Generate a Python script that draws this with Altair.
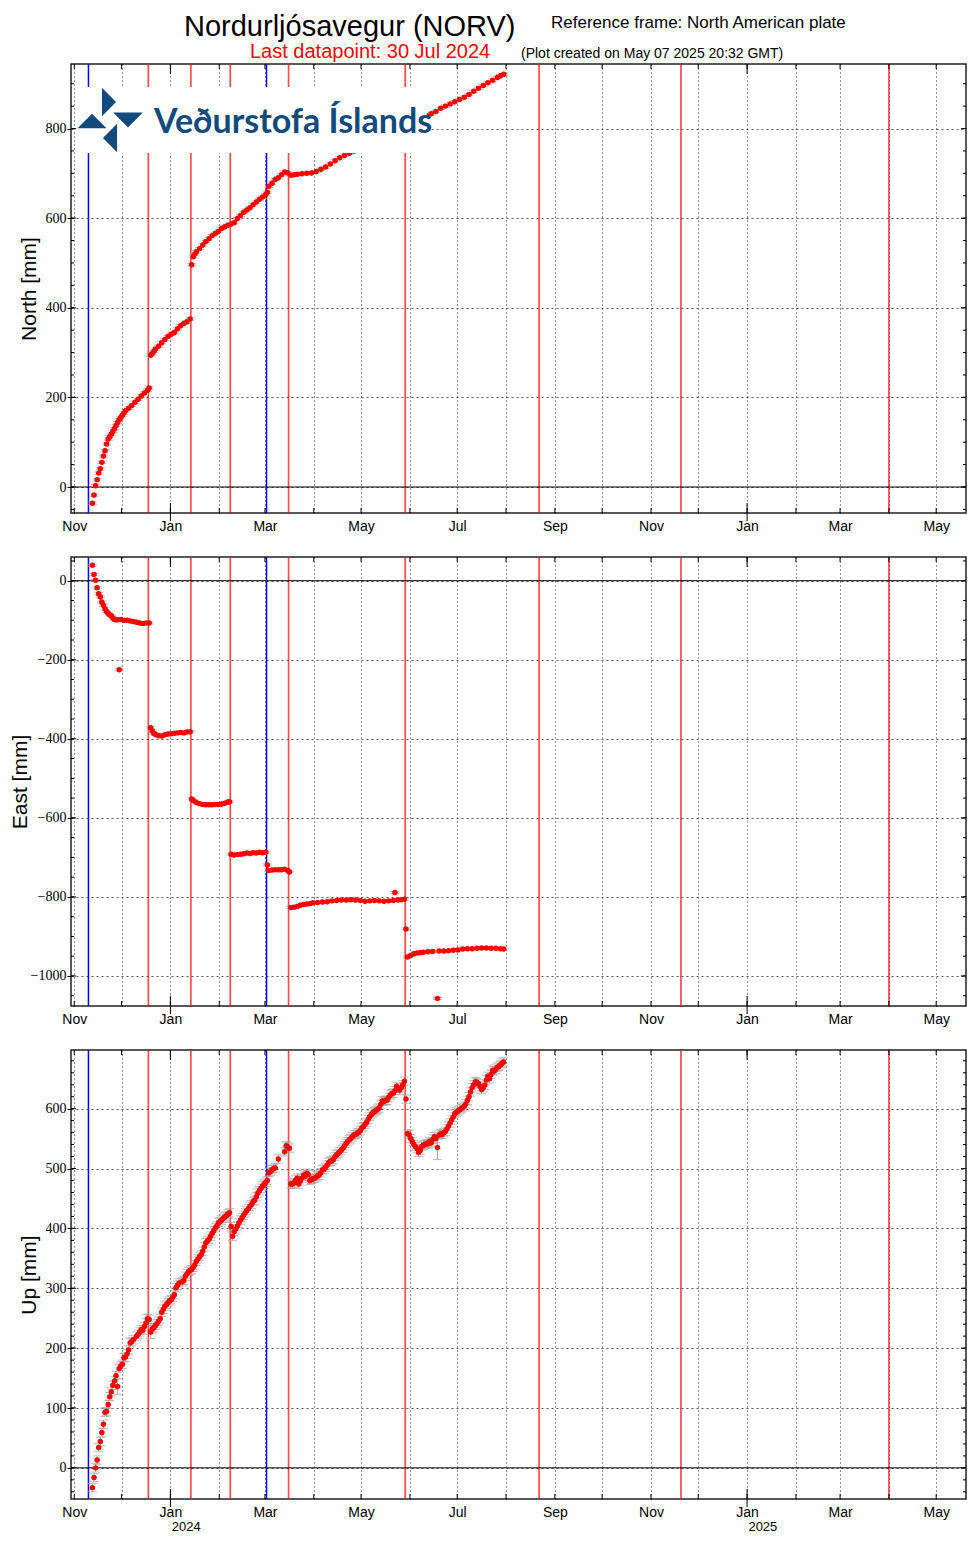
import altair as alt
import pandas as pd

# ---------------------------------------------------------------- data
# day offsets are counted from 2024-01-01 (UTC); values in mm
north_day = [-50, -49, -48, -47, -46, -45, -44, -43, -42, -41, -40, -39, -38, -37, -36, -35, -34, -33, -32, -31,
             -30, -29, -27, -25, -23, -21, -19, -17, -15, -14,
             -13, -12, -11, -10, -8, -6, -4, -2, 0, 2, 4, 6, 8, 10, 12,
             13, 14, 15, 16, 18, 20, 22, 24, 26, 28, 30, 32, 34, 36, 38, 40, 42, 44, 46, 48, 50, 52, 54, 56, 58, 60, 61,
             62, 64, 66, 68, 70, 72, 74, 76, 78, 80,
             83, 86, 89, 92, 95, 98, 101, 104, 107, 110, 113, 116, 119, 122, 125, 128, 131, 134, 137, 140, 143, 146,
             148, 150,
             153, 156, 159, 162, 165, 168, 171, 174, 177, 180, 183, 186, 189, 192, 195, 198, 201, 204, 207,
             209, 211]
north_mm = [-36, -18, 3, 16, 31, 41, 55, 69, 81, 96, 107, 112, 118, 124, 130, 137, 144, 150, 155, 160,
            165, 170, 176, 182, 189, 196, 203, 210, 216, 221,
            294, 298, 303, 308, 314, 322, 329, 336, 341, 345, 353, 360, 365, 369, 375,
            496, 514, 520, 525, 532, 540, 548, 554, 561, 566, 571, 577, 581, 584, 587, 590, 599, 606, 613, 618, 623, 630,
            636, 642, 647, 653, 658,
            671, 678, 686, 690, 697, 703, 701, 696, 697, 698,
            699, 700, 701, 704, 709, 714, 721, 728, 735, 740, 745, 750, 755, 760, 765, 770, 775, 780, 785, 790, 795, 800,
            804, 812,
            816, 820, 825, 829, 833, 838, 845, 850, 855, 860, 865, 870, 876, 883, 890, 896, 902, 908, 914,
            918, 921]

east_day = [-50, -49, -48, -47, -46, -45, -44, -43, -42, -41, -40, -39, -38, -37, -36, -35, -34, -33, -32,
            -30, -28, -26, -24, -22, -20, -18, -16, -14,
            -13, -12, -11, -10, -8, -6, -4, -2, 0, 2, 4, 6, 8, 10, 12,
            13, 14, 16, 18, 20, 22, 24, 26, 28, 30, 32, 34, 36, 37,
            38, 40, 42, 44, 46, 48, 50, 52, 54, 56, 58, 60,
            61, 62, 64, 66, 68, 70, 72, 74, 75,
            76, 78, 80, 82, 84, 86, 88, 90,
            93, 96, 99, 102, 105, 108, 111, 114, 117, 120, 123, 126, 129, 132, 135, 138, 141,
            142, 144, 146, 148,
            149,
            150, 152, 154, 156, 158, 160, 163, 166, 169, 170,
            173, 176, 179, 182, 185, 188, 191, 194, 197, 200, 203, 206, 209, 211]
east_mm = [39, 16, 1, -18, -33, -41, -54, -62, -71, -78, -82, -86, -89, -94, -98, -99, -99, -225, -98,
           -100, -100, -102, -103, -105, -107, -108, -107, -107,
           -372, -380, -386, -389, -392, -393, -390, -388, -387, -386, -385, -384, -385, -383, -382,
           -552, -556, -561, -564, -566, -567, -567, -567, -566, -566, -565, -563, -560, -559,
           -692, -694, -693, -692, -691, -689, -690, -688, -689, -687, -688, -687,
           -719, -733, -732, -731, -731, -731, -730, -733, -737,
           -827, -826, -824, -821, -819, -818, -817, -815,
           -814, -813, -812, -810, -809, -808, -808, -807, -808, -809, -811, -810, -809, -810, -811, -810, -809,
           -789, -808, -807, -806,
           -881,
           -952, -948, -944, -942, -941, -940, -939, -938, -1057, -937,
           -937, -936, -935, -934, -932, -931, -931, -930, -929, -929, -930, -930, -931, -932]

up_day = [-50, -49, -48, -47, -46, -45, -44, -43, -42, -41, -40, -39, -38, -37, -36, -35, -34, -33, -32, -31,
          -30, -29, -28, -27, -26, -25, -24, -22, -21, -20, -19, -18, -17, -16, -15, -14,
          -13, -12, -11, -10, -9, -8, -7, -6, -5, -4, -3, -2, -1, 0, 1, 2, 3, 4, 5, 7, 8, 9, 10, 11, 12,
          13, 14, 15, 16, 17, 18, 19, 20, 21, 22, 23, 24, 25, 26, 27, 28, 29, 30, 31, 32, 33, 34, 35, 36, 37,
          38, 39, 40, 41, 42, 43, 44, 45, 46, 47, 48, 49, 50, 51, 52, 53, 54, 55, 56, 57, 58, 59, 60, 61,
          62, 63, 64, 65, 66, 68, 72, 73, 74, 75,
          76, 77, 78, 79, 80, 81, 82, 83, 84, 85, 86, 87, 88, 89, 90, 91, 92, 93, 94, 95, 96, 97, 98, 99,
          100, 101, 102, 103, 104, 105, 106, 107, 108, 109, 110, 111, 112, 113, 114, 115, 116, 117, 118, 119,
          120, 121, 122, 123, 124, 125, 126, 127, 128, 129, 130, 131, 132, 133, 134, 135, 136, 137, 138, 139,
          140, 141, 142, 143, 144, 145, 146, 147, 148,
          149,
          150, 151, 152, 153, 154, 155, 156, 157, 158, 159, 160, 161, 162, 163, 164, 165, 166, 167, 168, 169,
          170, 171, 172, 173, 174, 175, 176, 177, 178, 179, 180, 181, 182, 183, 184, 185, 186, 187, 188, 189,
          190, 191, 192, 193, 194, 195, 196, 197, 198, 199, 200, 201, 202, 203, 204, 205, 206, 207, 208, 209,
          210, 211]
up_mm = [-33, -16, 0, 13, 34, 44, 59, 73, 93, 94, 106, 119, 127, 138, 145, 154, 136, 166, 170, 173,
         184, 185, 190, 197, 209, 211, 214, 220, 223, 227, 231, 230, 236, 242, 249, 248,
         227, 232, 234, 238, 241, 245, 249, 260, 265, 270, 273, 276, 279, 281, 285, 289, 301, 305, 309,
         311, 313, 320, 324, 328, 330,
         331, 335, 339, 345, 349, 353, 356, 362, 369, 376, 379, 382, 387, 392, 396, 401, 404, 410, 411, 414, 417,
         419, 421, 424, 426,
         403, 387, 395, 399, 404, 409, 414, 418, 422, 426, 430, 433, 437, 440, 445, 447, 453, 459, 463, 467, 471,
         474, 477, 480,
         493, 495, 498, 500, 501, 516, 528, 538, 536, 534,
         474, 474, 476, 481, 484, 474, 479, 484, 489, 487, 492, 490, 480, 482, 483, 484, 486, 488, 489, 493, 498,
         499, 502, 506,
         510, 512, 513, 515, 520, 523, 525, 528, 531, 534, 538, 542, 545, 548, 550, 553, 556, 557, 559, 560,
         563, 568, 570, 574, 577, 582, 587, 590, 593, 595, 597, 599, 601, 607, 613, 612, 614, 614, 619, 623,
         625, 626, 630, 637, 634, 631, 635, 640, 646,
         616,
         558, 557, 550, 545, 540, 537, 533, 527, 530, 537, 539, 540, 542, 541, 545, 543, 549, 553, 550, 535,
         556, 558, 557, 560, 562, 566, 571, 576, 581, 586, 592, 594, 596, 598, 600, 602, 604, 608, 614, 620,
         628, 635, 640, 645, 644, 642, 637, 632, 635, 639, 648, 654, 650, 657, 664, 663, 666, 669, 671, 673,
         676, 678]

# typical 1-sigma uncertainty [mm] and the few larger ones
north_sigma = 2.5
east_sigma = 2.5
up_sigma = 7.0
up_sigma_big = {-34: 13, -13: 11, 169: 20}

intrusion_dates = ["2023-11-10", "2024-03-02"]
eruption_dates = ["2023-12-18", "2024-01-14", "2024-02-08", "2024-03-16", "2024-05-29",
                  "2024-08-22", "2024-11-20", "2025-04-01"]

month_starts = ["2023-11-01", "2023-12-01", "2024-01-01", "2024-02-01", "2024-03-01", "2024-04-01",
                "2024-05-01", "2024-06-01", "2024-07-01", "2024-08-01", "2024-09-01", "2024-10-01",
                "2024-11-01", "2024-12-01", "2025-01-01", "2025-02-01", "2025-03-01", "2025-04-01",
                "2025-05-01"]
year_starts = ["2024-01-01", "2025-01-01"]
year_labels = ["2024", "2025"]
year_label_dates = ["2024-01-11", "2025-01-11"]

x_domain_dates = ["2023-10-29T22:00:00", "2025-05-19T22:00:00"]

north_major = [0, 200, 400, 600, 800]
east_major = [-1000, -800, -600, -400, -200, 0]
up_major = [0, 100, 200, 300, 400, 500, 600]
north_minor = list(range(-50, 901, 50))
east_minor = list(range(-1050, 51, 50))
up_minor = list(range(-40, 681, 20))

north_domain = [-58, 944]
east_domain = [-1076, 60]
up_domain = [-52, 698]

# ---------------------------------------------------------------- helpers
BASE_MS = pd.Timestamp("2024-01-01", tz="UTC").value // 10**6
DAY_MS = 86400000


def day_ms(days, shift=0.0):
    return [BASE_MS + int(round((d + shift) * DAY_MS)) for d in days]


def date_ms(dates):
    return [pd.Timestamp(s, tz="UTC").value // 10**6 for s in dates]


W, H = 895, 449
XSCALE = alt.Scale(type="utc", domain=date_ms(x_domain_dates), nice=False)
XPLAIN = alt.X("t:T", scale=XSCALE)

XAXIS = alt.Axis(
    values=date_ms(month_starts),
    labelExpr="utcmonth(datum.value) % 2 == 0 ? utcFormat(datum.value, '%b') : ''",
    ticks=False, domain=False, grid=True, gridDash=[1, 3], gridColor="#000", gridOpacity=0.85,
    gridWidth=1, labelFont="Liberation Sans", labelFontSize=14, labelColor="#000",
    labelPadding=6, labelAngle=0, labelAlign="center", labelFlush=False, labelOverlap=False,
    title=None)

SANS = "Liberation Sans"
SERIF = "Liberation Serif"


def one_row():
    return pd.DataFrame({"a": [0]})


def panel(days, vals, sigma, big, ydom, major, minor, title, title_pad, extra=()):
    df = pd.DataFrame({"t": day_ms(days, 0.5), "v": vals})
    s = [big.get(d, sigma) for d in days]
    df["lo"] = [v - e for v, e in zip(vals, s)]
    df["hi"] = [v + e for v, e in zip(vals, s)]
    ysc = alt.Scale(domain=ydom, nice=False, zero=False)
    yaxis = alt.Axis(values=major, format="d", tickSize=4, ticks=True, tickColor="#000", tickWidth=1,
                     labelPadding=1, labelFont=SERIF, labelFontSize=14, labelColor="#000",
                     grid=True, gridDash=[2, 3], gridColor="#444", gridOpacity=0.9, domain=False,
                     title=title, titleFont=SANS, titleFontSize=21, titleFontWeight="normal",
                     titleColor="#000", titlePadding=title_pad)

    ev_r = pd.DataFrame({"t": date_ms(eruption_dates)})
    ev_b = pd.DataFrame({"t": date_ms(intrusion_dates)})
    months = pd.DataFrame({"t": date_ms(month_starts)})
    jans = pd.DataFrame({"t": date_ms(year_starts)})
    maj = pd.DataFrame({"v": major})
    mnr = pd.DataFrame({"v": minor})

    red = alt.Chart(ev_r).mark_rule(color="#ff0000", strokeWidth=1.7, opacity=0.7).encode(
        x=alt.X("t:T", scale=XSCALE, axis=XAXIS))
    blue = alt.Chart(ev_b).mark_rule(color="#0000ff", strokeWidth=1.5).encode(x=XPLAIN)
    zero = alt.Chart(pd.DataFrame({"v": [0]})).mark_rule(color="#000", strokeWidth=1).encode(
        y=alt.Y("v:Q", scale=ysc, axis=yaxis))
    err = alt.Chart(df).mark_rule(color="#a0a0a0", strokeWidth=1).encode(
        x=XPLAIN, y=alt.Y("lo:Q", scale=ysc), y2="hi:Q")
    cap_lo = alt.Chart(df).mark_tick(color="#a0a0a0", orient="horizontal", size=9, thickness=1).encode(
        x=XPLAIN, y=alt.Y("lo:Q", scale=ysc))
    cap_hi = alt.Chart(df).mark_tick(color="#a0a0a0", orient="horizontal", size=9, thickness=1).encode(
        x=XPLAIN, y=alt.Y("hi:Q", scale=ysc))
    pts = alt.Chart(df).mark_circle(color="#ff0000", size=30, opacity=1).encode(
        x=XPLAIN, y=alt.Y("v:Q", scale=ysc))

    yplain = alt.Y("v:Q", scale=ysc)
    ticks = [
        alt.Chart(maj).mark_rule(color="#000").encode(y=yplain, x=alt.value(0), x2=alt.value(5)),
        alt.Chart(mnr).mark_rule(color="#000").encode(y=yplain, x=alt.value(0), x2=alt.value(3)),
        alt.Chart(maj).mark_rule(color="#000").encode(y=yplain, x=alt.value(W), x2=alt.value(W - 5)),
        alt.Chart(mnr).mark_rule(color="#000").encode(y=yplain, x=alt.value(W), x2=alt.value(W - 3)),
        alt.Chart(months).mark_rule(color="#000").encode(x=XPLAIN, y=alt.value(H), y2=alt.value(H - 5)),
        alt.Chart(months).mark_rule(color="#000").encode(x=XPLAIN, y=alt.value(0), y2=alt.value(5)),
        alt.Chart(jans).mark_rule(color="#000").encode(x=XPLAIN, y=alt.value(H - 10), y2=alt.value(H + 8)),
        alt.Chart(jans).mark_rule(color="#000").encode(x=XPLAIN, y=alt.value(0), y2=alt.value(10)),
    ]
    layers = [red, blue, zero, err, cap_lo, cap_hi, pts] + ticks + list(extra)
    return alt.layer(*layers).properties(width=W, height=H)


def text_layer(txt, x, y, size, color="#000", font=SANS, weight="normal", align="left", baseline="alphabetic"):
    return alt.Chart(one_row()).mark_text(
        text=txt, align=align, baseline=baseline, font=font, fontSize=size, fontWeight=weight,
        color=color).encode(x=alt.value(x), y=alt.value(y))


LOGO_BLUE = "#114a7c"


def tri(path, x, y, size):
    return alt.Chart(one_row()).mark_point(
        shape=path, filled=True, color=LOGO_BLUE, size=size, opacity=1, strokeWidth=0).encode(
        x=alt.value(x), y=alt.value(y))


logo = [
    alt.Chart(one_row()).mark_rect(color="#ffffff").encode(
        x=alt.value(5), x2=alt.value(356), y=alt.value(23), y2=alt.value(89)),
    tri("M-0.5,-1L0.5,0L-0.5,1Z", 38, 38, 800),   # pointing right (top)
    tri("M-1,-0.5L1,-0.5L0,0.5Z", 57, 56, 880),   # pointing down (right)
    tri("M0.5,-1L-0.5,0L0.5,1Z", 39, 74, 800),    # pointing left (bottom)
    tri("M-1,0.5L1,0.5L0,-0.5Z", 21, 57, 840),    # pointing up (left)
    text_layer("Veðurstofa Íslands", 83, 69, 34, color=LOGO_BLUE, font="Lato", weight="bold"),
]

header = [
    text_layer("Nordurljósavegur (NORV)", 113, -51, 29, baseline="top"),
    text_layer("Reference frame: North American plate", 480, -36, 17),
    text_layer("Last datapoint: 30 Jul 2024", 179, -6, 20, color="#ff0000"),
    text_layer("(Plot created on May 07 2025 20:32 GMT)", 450, -6, 14),
]

years_df = pd.DataFrame({"t": date_ms(year_label_dates), "label": year_labels})
years = alt.Chart(years_df).mark_text(font=SANS, fontSize=13, color="#000", baseline="middle").encode(
    x=XPLAIN, y=alt.value(H + 28), text="label:N")

p1 = panel(north_day, north_mm, north_sigma, {}, north_domain, north_major, north_minor,
           "North [mm]", 6, extra=logo + header)
p2 = panel(east_day, east_mm, east_sigma, {}, east_domain, east_major, east_minor, "East [mm]", 0)
p3 = panel(up_day, up_mm, up_sigma, up_sigma_big, up_domain, up_major, up_minor, "Up [mm]", 6,
           extra=[years])

chart = alt.vconcat(p1, p2, p3, spacing=21).properties(
    padding={"left": 0, "top": 4, "right": 0, "bottom": 0}
).configure_view(stroke="#222", strokeWidth=1.5)

chart.save("out.html", embed_options={"renderer": "svg", "actions": False})
